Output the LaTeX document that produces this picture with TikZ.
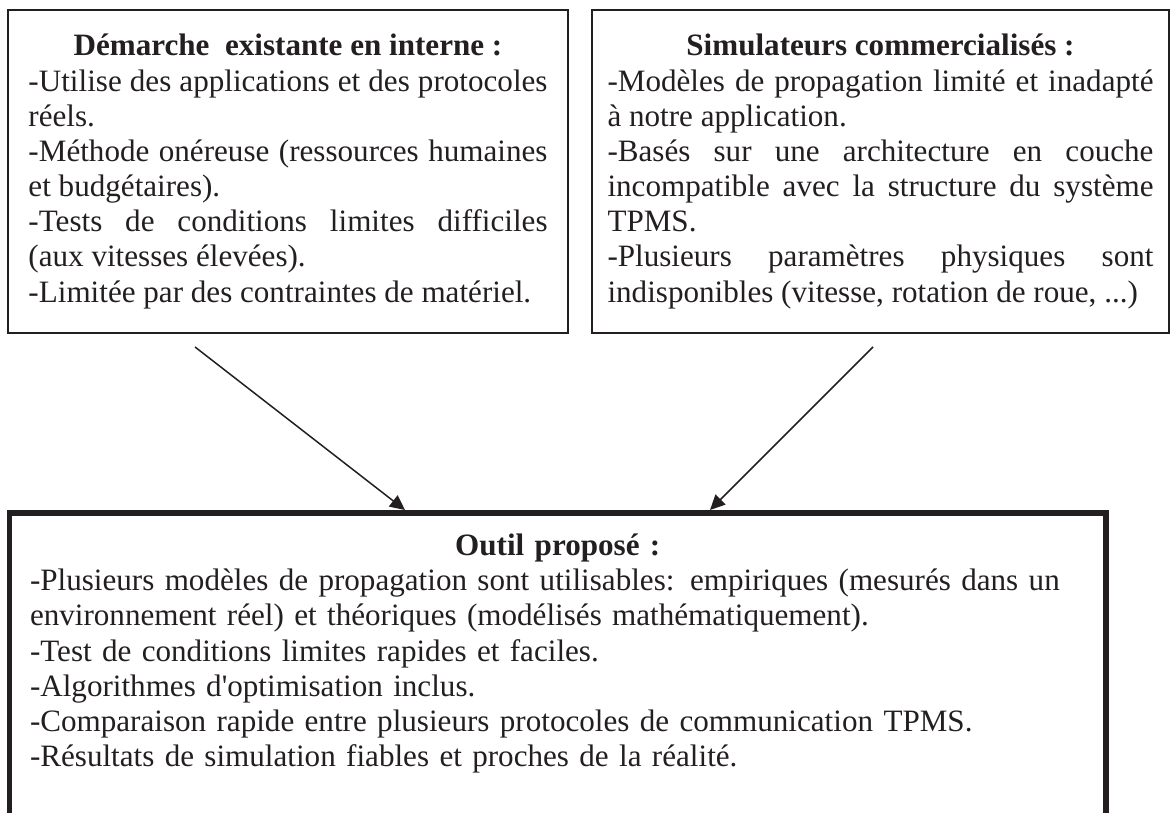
\documentclass[tikz,border=0pt]{standalone}
\definecolor{encre}{RGB}{35,31,32}
\usepackage{fontspec}
\setmainfont{Liberation Serif}
\usepackage{tikz}
\usetikzlibrary{arrows.meta}
\setlength{\parindent}{0pt}
\hyphenpenalty=10000
\exhyphenpenalty=10000

\begin{document}
\begin{tikzpicture}[
      encadre/.style={
          draw=encre,
          text=encre,
          line width=1.1pt,
          minimum height=6.46cm,
          inner ysep=0pt,
          font=\fontsize{17.7}{20}\selectfont,
          align=justify
        },
      synthese/.style={
          draw=encre,
          text=encre,
          line width=3.4pt,
          minimum width=21.93cm,
          minimum height=6.1cm,
          inner xsep=0.41cm,
          inner ysep=0pt,
          text width=21.11cm,
          font=\fontsize{17.7}{20}\selectfont,
          align=left
        },
      fleche/.style={-{Triangle[length=8.5pt,width=8pt]}, draw=encre, fill=encre, line width=0.85pt}
    ]
    \useasboundingbox (0,0) rectangle (23.42,16.24);

    \node[encadre, minimum width=11.2cm, text width=10.38cm, inner xsep=0.41cm] (existant) at (5.76,12.81) {
      {\centering\bfseries Démarche~ existante en interne :\par}
      -Utilise des applications et des protocoles\linebreak réels.\par
      -Méthode onéreuse (ressources humaines\linebreak et budgétaires).\par
      -Tests de conditions limites difficiles\linebreak (aux vitesses élevées).\par
      -Limitée par des contraintes de matériel.};

    \node[encadre, minimum width=11.54cm, text width=10.92cm, inner xsep=0.31cm] (simulateurs) at (17.61,12.81) {
      {\centering\bfseries Simulateurs commercialisés :\par}
      -Modèles de propagation limité et inadapté\linebreak à notre application.\par
      -Basés sur une architecture en couche\linebreak incompatible avec la structure du système\linebreak TPMS.\par
      -Plusieurs paramètres physiques sont\linebreak \mbox{indisponibles (vitesse, rotation de roue, ...)}};

    \node[synthese] (outil) at (11.155,2.93) {
      {\centering\bfseries Outil proposé :\par}
      -Plusieurs modèles de propagation sont utilisables: empiriques (mesurés dans un\\
      environnement réel) et théoriques (modélisés mathématiquement).\par
      -Test de conditions limites rapides et faciles.\par
      -Algorithmes d\textquotesingle optimisation inclus.\par
      -Comparaison rapide entre plusieurs protocoles de communication TPMS.\par
      -Résultats de simulation fiables et proches de la réalité.\par
      \vspace*{0.48cm}};

    \draw[fleche] ([xshift=-1.86cm,yshift=-0.26cm]existant.south) -- ([xshift=-3.055cm]outil.north);
    \draw[fleche] ([xshift=-0.15cm,yshift=-0.26cm]simulateurs.south) -- ([xshift=3.045cm]outil.north);
  \end{tikzpicture}
\end{document}
